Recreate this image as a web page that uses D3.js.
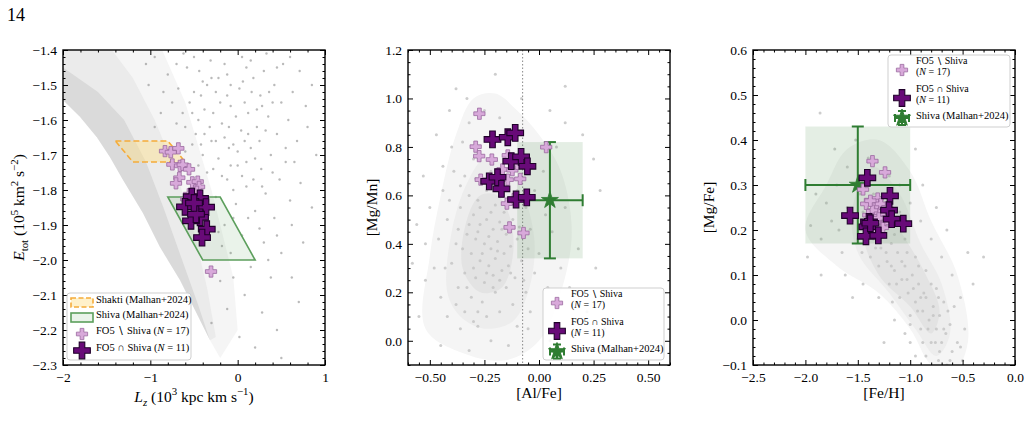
<!DOCTYPE html>
<html>
<head>
<meta charset="utf-8">
<script src="https://cdn.jsdelivr.net/npm/d3@7"></script>
<style>
body { margin: 0; background: #fff; }
svg { font-family: "Liberation Serif", "DejaVu Serif", serif; }
</style>
</head>
<body>
<script>
// ---------- data ----------

// panel 1: E_tot vs L_z
const shaktiBox = [[-1.40, -1.66], [-0.80, -1.66], [-0.60, -1.72], [-1.20, -1.72]];
const shivaBox = [[-0.80, -1.82], [-0.20, -1.82], [0.20, -2.00], [-0.40, -2.00]];
const bandEdge = [[-2.0, -1.543], [-1.805, -1.591], [-1.611, -1.649], [-1.462, -1.706], [-1.313, -1.771],
  [-1.084, -1.866], [-0.889, -1.963], [-0.660, -2.057], [-0.488, -2.143], [-0.316, -2.229]];
const bandFaint = [[-2.0, -1.38], [-0.9, -1.38], [-0.6, -1.55], [-0.3, -1.80], [-0.05, -2.05], [0.0, -2.20], [-0.2, -2.28]];
const bandMid = [[-2.0, -1.38], [-1.5, -1.38], [-1.2, -1.48], [-0.95, -1.60], [-0.7, -1.75], [-0.5, -1.92], [-0.35, -2.08], [-0.25, -2.22]];
const bandCore = [[-2.0, -1.45], [-1.6, -1.52], [-1.3, -1.60], [-1.05, -1.72], [-0.85, -1.85], [-0.65, -1.99], [-0.45, -2.13], [-0.33, -2.22]];
const p1Dots = [
  [-0.95, -1.42], [-0.62, -1.41], [-0.31, -1.43], [0.05, -1.42], [0.33, -1.41], [0.52, -1.44], [0.71, -1.46],
  [-0.80, -1.47], [-0.44, -1.46], [-0.12, -1.47], [0.18, -1.48], [0.42, -1.50], [0.63, -1.52], [-1.02, -1.50],
  [-0.68, -1.51], [-0.25, -1.52], [0.02, -1.51], [0.26, -1.53], [0.50, -1.55], [0.78, -1.56], [-0.55, -1.55],
  [-0.38, -1.57], [-0.08, -1.56], [0.12, -1.58], [0.35, -1.59], [0.58, -1.60], [-0.88, -1.58], [-0.70, -1.61],
  [-0.18, -1.61], [0.04, -1.63], [0.22, -1.62], [0.45, -1.64], [0.68, -1.66], [-0.48, -1.64], [-0.30, -1.66],
  [-0.05, -1.67], [0.15, -1.68], [0.38, -1.70], [0.55, -1.72], [-0.60, -1.69], [-0.22, -1.71], [0.00, -1.73],
  [0.27, -1.74], [0.48, -1.77], [0.72, -1.78], [-0.35, -1.75], [-0.12, -1.77], [0.10, -1.79], [0.32, -1.81],
  [-0.25, -1.82], [-0.02, -1.84], [0.20, -1.86], [0.42, -1.88], [0.62, -1.90], [-0.15, -1.90], [0.05, -1.93],
  [0.30, -1.95], [0.50, -1.98], [-0.08, -1.98], [0.15, -2.02], [0.38, -2.05], [-0.20, -2.06], [0.08, -2.10],
  [0.28, -2.15], [-0.12, -2.14], [0.45, -2.20], [0.02, -2.22], [-0.30, -2.18], [0.62, -2.05], [0.75, -1.95],
  [-0.40, -1.49], [-0.15, -1.44], [0.10, -1.45], [-0.58, -1.45], [0.30, -1.46], [-0.28, -1.58], [-0.45, -1.60],
  [0.08, -1.55], [0.20, -1.71], [-0.10, -1.62], [0.40, -1.75], [-0.40, -1.70], [0.60, -1.83], [-0.05, -1.80],
  [-0.20, -1.55], [-0.32, -1.62], [-0.10, -1.68], [0.12, -1.64], [-0.50, -1.52], [-0.02, -1.59],
  [-0.52, -1.58], [-0.42, -1.53], [-0.35, -1.50], [-0.22, -1.48], [-0.08, -1.50], [0.06, -1.49], [0.16, -1.52],
  [0.28, -1.56], [0.40, -1.55], [-0.60, -1.62], [-0.52, -1.67], [-0.38, -1.64], [-0.25, -1.66], [-0.15, -1.65],
  [0.00, -1.69], [0.08, -1.66], [0.25, -1.66], [0.32, -1.63], [-0.45, -1.73], [-0.28, -1.74], [-0.18, -1.76],
  [0.05, -1.76], [0.18, -1.77], [-0.40, -1.79], [-0.30, -1.85], [0.12, -1.88], [0.25, -1.91], [-0.05, -1.88],
  [0.45, -1.93], [0.55, -1.68], [0.65, -1.72], [0.80, -1.62], [0.85, -1.50], [0.60, -1.42], [0.45, -1.45],
  [-0.75, -1.55], [-0.85, -1.52], [-0.70, -1.44], [-1.05, -1.44], [-0.95, -1.62], [0.70, -2.12], [0.50, -2.28],
  [0.20, -2.25], [-0.05, -2.05], [0.35, -2.00], [-0.18, -1.96], [0.85, -1.85], [0.90, -1.70], [0.15, -1.43],
  [-0.50, -1.42], [-0.30, -1.48], [0.22, -1.57], [-0.12, -1.53], [0.36, -1.52], [-0.63, -1.58], [-0.42, -1.67],
  [0.10, -1.72], [-0.08, -1.73], [0.28, -1.79], [-0.22, -1.92]
];
const p1Out = [ // FO5 \ Shiva
  [-0.832, -1.689], [-0.766, -1.692], [-0.679, -1.681], [-0.748, -1.727], [-0.660, -1.731], [-0.629, -1.728],
  [-0.557, -1.741], [-0.668, -1.765], [-0.706, -1.781], [-0.519, -1.778], [-0.457, -1.776], [-0.442, -1.791],
  [-0.468, -1.805], [-0.557, -1.812], [-0.305, -2.033], [-0.590, -1.826], [-0.430, -1.830]
];
const p1In = [ // FO5 n Shiva
  [-0.526, -1.819], [-0.431, -1.824], [-0.603, -1.848], [-0.477, -1.848], [-0.362, -1.849], [-0.431, -1.878],
  [-0.534, -1.888], [-0.354, -1.912], [-0.408, -1.936], [-0.477, -1.869], [-0.500, -1.837]
];

// panel 2: [Mg/Mn] vs [Al/Fe]
const p2Dots = [
  [-0.30, 0.52], [-0.27, 0.48], [-0.24, 0.50], [-0.21, 0.46], [-0.18, 0.49], [-0.33, 0.44], [-0.29, 0.42], [-0.25, 0.40],
  [-0.22, 0.38], [-0.19, 0.41], [-0.15, 0.44], [-0.31, 0.36], [-0.27, 0.33], [-0.23, 0.31], [-0.20, 0.34], [-0.16, 0.36],
  [-0.13, 0.39], [-0.34, 0.28], [-0.29, 0.26], [-0.25, 0.24], [-0.21, 0.27], [-0.17, 0.29], [-0.14, 0.31], [-0.36, 0.55],
  [-0.32, 0.60], [-0.28, 0.58], [-0.24, 0.62], [-0.20, 0.56], [-0.16, 0.53], [-0.12, 0.50], [-0.38, 0.40], [-0.40, 0.32],
  [-0.37, 0.22], [-0.31, 0.18], [-0.26, 0.16], [-0.20, 0.20], [-0.15, 0.22], [-0.11, 0.26], [-0.08, 0.33], [-0.10, 0.42],
  [-0.42, 0.50], [-0.44, 0.62], [-0.39, 0.70], [-0.34, 0.68], [-0.30, 0.75], [-0.35, 0.82], [-0.32, 0.90], [-0.40, 0.80],
  [-0.46, 0.42], [-0.48, 0.30], [-0.45, 0.18], [-0.42, 0.10], [-0.36, 0.05], [-0.30, 0.08], [-0.24, 0.10], [-0.18, 0.12],
  [-0.12, 0.15], [-0.06, 0.20], [-0.02, 0.28], [0.00, 0.36], [-0.04, 0.46], [-0.06, 0.55], [-0.02, 0.62], [0.02, 0.70],
  [0.06, 0.45], [0.10, 0.30], [0.12, 0.55], [0.08, 0.16], [0.14, 0.22], [-0.52, 0.25], [-0.55, 0.10], [-0.50, 0.55],
  [-0.53, 0.68], [-0.47, 0.85], [-0.41, 0.95], [-0.33, 1.00], [-0.25, 0.95], [-0.18, 0.92], [-0.38, 1.04], [-0.20, 1.10],
  [-0.28, 0.06], [-0.22, 0.00], [-0.14, -0.02], [-0.32, -0.04], [-0.05, 0.05], [0.05, 0.00], [-0.45, -0.02], [-0.52, 0.40],
  [0.20, 0.85], [0.12, 0.90], [0.18, 0.38], [0.22, 0.12], [0.26, 0.30], [0.28, 0.62], [0.05, 0.95], [-0.08, 1.00],
  [0.12, 1.05], [0.25, 0.75], [0.08, 0.80], [-0.12, 0.85], [0.30, 0.05], [-0.58, 0.32], [-0.56, 0.48],
  [-0.28, 0.45], [-0.23, 0.43], [-0.19, 0.37], [-0.26, 0.36], [-0.32, 0.48], [-0.22, 0.53], [-0.17, 0.46], [-0.30, 0.30],
  [-0.24, 0.28], [-0.18, 0.25], [-0.13, 0.28], [-0.35, 0.38], [-0.27, 0.55], [-0.14, 0.57], [-0.09, 0.47], [-0.33, 0.22],
  [-0.28, 0.12], [-0.38, 0.15], [-0.43, 0.30], [-0.41, 0.58], [-0.36, 0.64], [-0.29, 0.67], [-0.22, 0.70], [-0.10, 0.62],
  [-0.05, 0.38], [-0.04, 0.12], [-0.10, 0.06], [-0.44, 0.72], [-0.37, 0.46], [-0.21, 0.22], [-0.34, 0.12], [-0.26, 0.65],
  [-0.16, 0.64], [-0.07, 0.25], [0.03, 0.52], [0.04, 0.22]
];
const p2CloudOuter = [[-0.52, 0.05], [-0.50, 0.35], [-0.45, 0.60], [-0.38, 0.85], [-0.30, 1.00], [-0.20, 1.02], [-0.10, 0.95],
  [0.00, 0.85], [0.10, 0.70], [0.15, 0.45], [0.10, 0.20], [0.00, 0.00], [-0.15, -0.08], [-0.35, -0.05]];
const p2CloudMid = [[-0.42, 0.20], [-0.40, 0.45], [-0.33, 0.65], [-0.25, 0.75], [-0.15, 0.72], [-0.07, 0.60], [-0.02, 0.40],
  [-0.05, 0.20], [-0.12, 0.08], [-0.25, 0.05], [-0.36, 0.10]];
const p2CloudCore = [[-0.35, 0.30], [-0.33, 0.50], [-0.27, 0.60], [-0.19, 0.60], [-0.13, 0.50], [-0.12, 0.35], [-0.17, 0.22], [-0.27, 0.20]];
const p2Out = [
  [-0.273, 0.937], [-0.290, 0.801], [-0.274, 0.762], [-0.216, 0.748], [-0.143, 0.765], [-0.167, 0.707], [-0.122, 0.704],
  [-0.267, 0.665], [-0.143, 0.665], [-0.086, 0.668], [0.033, 0.799], [-0.147, 0.566], [-0.135, 0.468], [-0.071, 0.445],
  [-0.190, 0.665], [-0.115, 0.585], [-0.100, 0.730]
];
const p2In = [
  [-0.213, 0.831], [-0.143, 0.840], [-0.109, 0.858], [-0.127, 0.741], [-0.082, 0.759], [-0.053, 0.720],
  [-0.228, 0.658], [-0.190, 0.675], [-0.172, 0.627], [-0.105, 0.583], [-0.056, 0.592]
];
const p2Shiva = { x: 0.05, y: 0.58, xlo: -0.10, xhi: 0.20, ylo: 0.34, yhi: 0.82 };
const p2VLine = -0.075;

// panel 3: [Mg/Fe] vs [Fe/H]
const p3Dots = [
  [-1.45, 0.24], [-1.40, 0.20], [-1.35, 0.18], [-1.32, 0.22], [-1.28, 0.16], [-1.25, 0.19], [-1.22, 0.13], [-1.18, 0.17],
  [-1.15, 0.11], [-1.12, 0.15], [-1.08, 0.09], [-1.05, 0.12], [-1.02, 0.06], [-0.98, 0.10], [-0.95, 0.04], [-0.92, 0.08],
  [-0.88, 0.02], [-0.85, 0.05], [-0.82, 0.00], [-0.78, 0.03], [-0.75, -0.02], [-0.72, 0.01], [-0.70, -0.05], [-0.66, -0.03],
  [-1.30, 0.12], [-1.20, 0.08], [-1.10, 0.05], [-1.00, 0.01], [-0.90, -0.02], [-0.80, -0.05], [-1.38, 0.14], [-1.50, 0.18],
  [-1.55, 0.22], [-1.48, 0.28], [-1.42, 0.31], [-1.35, 0.28], [-1.25, 0.26], [-1.15, 0.22], [-1.05, 0.18], [-0.95, 0.14],
  [-0.85, 0.11], [-0.75, 0.07], [-0.68, 0.04], [-0.62, -0.01], [-0.60, -0.07], [-0.65, -0.10], [-0.73, -0.09], [-0.58, 0.03],
  [-1.75, 0.22], [-1.85, 0.18], [-1.95, 0.21], [-1.70, 0.30], [-1.65, 0.15], [-1.80, 0.26], [-1.90, 0.28], [-1.60, 0.34],
  [-1.62, 0.10], [-1.72, 0.38], [-1.52, 0.40], [-1.40, 0.36], [-1.20, 0.32], [-1.10, 0.30], [-1.00, 0.26], [-0.90, 0.22],
  [-0.80, 0.18], [-0.70, 0.14], [-0.60, 0.10], [-0.52, 0.05], [-0.48, -0.02], [-0.55, -0.05], [-0.50, -0.09], [-0.70, -0.14],
  [-0.85, -0.08], [-1.00, -0.05], [-1.15, 0.00], [-1.30, 0.05], [-1.45, 0.08], [-1.55, 0.05], [-1.05, -0.03], [-0.95, -0.08],
  [-0.88, 0.30], [-0.75, 0.25], [-0.65, 0.20], [-0.45, 0.15], [-0.40, 0.08], [-0.62, -0.09], [-1.86, 0.46], [-0.95, 0.38],
  [-0.30, 0.14], [-1.25, -0.05], [-1.85, 0.10], [-1.98, 0.14],
  [-1.18, 0.12], [-1.13, 0.08], [-1.08, 0.13], [-1.03, 0.09], [-0.97, 0.07], [-0.93, 0.02], [-0.87, 0.06], [-0.83, -0.02],
  [-0.78, 0.01], [-0.76, -0.05], [-0.72, -0.07], [-0.68, -0.02], [-1.27, 0.21], [-1.23, 0.15], [-1.33, 0.16], [-1.40, 0.26],
  [-1.46, 0.15], [-1.15, 0.19], [-1.03, 0.15], [-0.92, 0.12], [-0.80, 0.08], [-0.73, 0.05], [-0.64, 0.02], [-0.90, 0.05],
  [-1.00, -0.01], [-1.17, 0.04], [-1.60, 0.25], [-1.68, 0.20], [-1.10, 0.24], [-0.88, -0.05], [-0.58, -0.11], [-0.52, -0.06]
];
const p3CloudOuter = [[-2.0, 0.20], [-1.8, 0.30], [-1.6, 0.38], [-1.3, 0.40], [-1.0, 0.33], [-0.8, 0.22], [-0.55, 0.10],
  [-0.45, -0.05], [-0.6, -0.12], [-0.8, -0.10], [-1.0, -0.02], [-1.3, 0.06], [-1.7, 0.12]];
const p3CloudMid = [[-1.55, 0.25], [-1.35, 0.34], [-1.1, 0.28], [-0.9, 0.17], [-0.7, 0.08], [-0.62, -0.03], [-0.75, -0.08],
  [-0.95, -0.02], [-1.2, 0.06], [-1.5, 0.15]];
const p3CloudCore = [[-1.45, 0.20], [-1.3, 0.27], [-1.1, 0.20], [-0.85, 0.10], [-0.72, 0.02], [-0.8, -0.03], [-1.0, 0.03], [-1.3, 0.10]];
const p3Out = [
  [-1.36, 0.353], [-1.24, 0.328], [-1.31, 0.270], [-1.42, 0.258], [-1.32, 0.256], [-1.36, 0.243], [-1.29, 0.236],
  [-1.25, 0.216], [-1.26, 0.205], [-1.35, 0.201], [-1.40, 0.233], [-1.28, 0.258], [-1.33, 0.222], [-1.22, 0.250],
  [-1.45, 0.290], [-1.30, 0.226], [-1.38, 0.265]
];
const p3In = [
  [-1.409, 0.316], [-1.193, 0.276], [-1.574, 0.232], [-1.202, 0.244], [-1.177, 0.224], [-1.066, 0.214],
  [-1.393, 0.218], [-1.409, 0.207], [-1.422, 0.186], [-1.304, 0.188], [-1.380, 0.215]
];
const p3Shiva = { x: -1.5, y: 0.30, xlo: -2.0, xhi: -1.0, ylo: 0.17, yhi: 0.43 };

// ---------- styles ----------
const LIGHT = "#d8a9da", LIGHT_EDGE = "#9a6aa0";
const DARK = "#680a78", DARK_EDGE = "#20002a";
const GREEN = "#2f7d32";
const TOP = 50, BOT = 365;
const TICK_FS = 13.5, LABEL_FS = 15.5;

const svg = d3.select("body").append("svg").attr("width", 1030).attr("height", 430);
svg.append("text").attr("x", 7).attr("y", 21).attr("font-size", 18).text("14");

function stepValues(dom, step) {
  const lo = Math.min(...dom), hi = Math.max(...dom);
  return d3.range(Math.ceil(lo / step - 1e-9), Math.floor(hi / step + 1e-9) + 1).map(i => +(i * step).toFixed(6));
}

function panel(id, left, right, xDom, yDom) {
  const x = d3.scaleLinear().domain(xDom).range([left, right]);
  const y = d3.scaleLinear().domain(yDom).range([BOT, TOP]);
  svg.append("clipPath").attr("id", "clip" + id)
    .append("rect").attr("x", left).attr("y", TOP).attr("width", right - left).attr("height", BOT - TOP);
  const g = svg.append("g");
  const plot = g.append("g").attr("clip-path", `url(#clip${id})`);
  return { x, y, g, plot, left, right };
}

function axes(p, xStep, xMinor, yStep, yMinor, xFmt, yFmt) {
  const { x, y, g, left, right } = p;
  const xMaj = stepValues(x.domain(), xStep);
  const xMin = stepValues(x.domain(), xMinor).filter(v => !xMaj.some(m => Math.abs(m - v) < 1e-6));
  const yMaj = stepValues(y.domain(), yStep);
  const yMin = stepValues(y.domain(), yMinor).filter(v => !yMaj.some(m => Math.abs(m - v) < 1e-6));

  const ax = g.append("g");
  ax.append("g").attr("transform", `translate(0,${BOT})`)
    .call(d3.axisBottom(x).tickValues(xMaj).tickFormat(xFmt).tickSizeInner(-5).tickSizeOuter(0).tickPadding(7));
  ax.append("g").attr("transform", `translate(0,${BOT})`)
    .call(d3.axisBottom(x).tickValues(xMin).tickFormat("").tickSizeInner(-2.5).tickSizeOuter(0));
  ax.append("g").attr("transform", `translate(0,${TOP})`)
    .call(d3.axisTop(x).tickValues(xMaj).tickFormat("").tickSizeInner(-5).tickSizeOuter(0));
  ax.append("g").attr("transform", `translate(0,${TOP})`)
    .call(d3.axisTop(x).tickValues(xMin).tickFormat("").tickSizeInner(-2.5).tickSizeOuter(0));
  ax.append("g").attr("transform", `translate(${left},0)`)
    .call(d3.axisLeft(y).tickValues(yMaj).tickFormat(yFmt).tickSizeInner(-5).tickSizeOuter(0).tickPadding(6));
  ax.append("g").attr("transform", `translate(${left},0)`)
    .call(d3.axisLeft(y).tickValues(yMin).tickFormat("").tickSizeInner(-2.5).tickSizeOuter(0));
  ax.append("g").attr("transform", `translate(${right},0)`)
    .call(d3.axisRight(y).tickValues(yMaj).tickFormat("").tickSizeInner(-5).tickSizeOuter(0));
  ax.append("g").attr("transform", `translate(${right},0)`)
    .call(d3.axisRight(y).tickValues(yMin).tickFormat("").tickSizeInner(-2.5).tickSizeOuter(0));
  ax.selectAll(".domain").remove();
  ax.selectAll(".tick line").attr("stroke", "#000").attr("stroke-width", 1);
  ax.selectAll(".tick text").attr("font-size", TICK_FS).attr("font-family", "Liberation Serif").attr("fill", "#000");

  g.append("rect").attr("x", left).attr("y", TOP).attr("width", right - left).attr("height", BOT - TOP)
    .attr("fill", "none").attr("stroke", "#000").attr("stroke-width", 1.4);
}

function richText(text, parts, fs) {
  let shift = 0;
  parts.forEach(pt => {
    const target = pt.sub ? fs * 0.28 : pt.sup ? -fs * 0.42 : 0;
    const ts = text.append("tspan").attr("dy", target - shift).text(pt.t);
    if (pt.sub || pt.sup) ts.attr("font-size", fs * 0.7);
    if (pt.it) ts.attr("font-style", "italic");
    shift = target;
  });
}

function crosses(p, data, size, fill, stroke) {
  p.g.append("g").selectAll("path").data(data).join("path")
    .attr("transform", d => `translate(${p.x(d[0])},${p.y(d[1])})`)
    .attr("d", d3.symbol(d3.symbolCross, size))
    .attr("fill", fill).attr("stroke", stroke).attr("stroke-width", size > 100 ? 1.1 : 0.8);
}

function dots(p, data, r, color, op) {
  p.plot.append("g").selectAll("circle").data(data).join("circle")
    .attr("cx", d => p.x(d[0])).attr("cy", d => p.y(d[1])).attr("r", r)
    .attr("fill", color).attr("opacity", op);
}

function blob(p, pts, color) {
  const line = d3.line().x(d => p.x(d[0])).y(d => p.y(d[1])).curve(d3.curveCatmullRomClosed.alpha(0.5));
  p.plot.append("path").attr("d", line(pts)).attr("fill", color);
}

function shivaErr(p, s) {
  const { x, y } = p;
  p.plot.append("rect").attr("x", x(s.xlo)).attr("y", y(s.yhi))
    .attr("width", x(s.xhi) - x(s.xlo)).attr("height", y(s.ylo) - y(s.yhi))
    .attr("fill", GREEN).attr("opacity", 0.13);
  const eg = p.g.append("g").attr("stroke", GREEN).attr("stroke-width", 2);
  eg.append("line").attr("x1", x(s.xlo)).attr("x2", x(s.xhi)).attr("y1", y(s.y)).attr("y2", y(s.y));
  eg.append("line").attr("x1", x(s.x)).attr("x2", x(s.x)).attr("y1", y(s.ylo)).attr("y2", y(s.yhi));
  [s.xlo, s.xhi].forEach(v => eg.append("line").attr("x1", x(v)).attr("x2", x(v)).attr("y1", y(s.y) - 6).attr("y2", y(s.y) + 6));
  [s.ylo, s.yhi].forEach(v => eg.append("line").attr("y1", y(v)).attr("y2", y(v)).attr("x1", x(s.x) - 6).attr("x2", x(s.x) + 6));
  p.g.append("path").attr("transform", `translate(${x(s.x)},${y(s.y)})`)
    .attr("d", d3.symbol(d3.symbolStar, 90)).attr("fill", GREEN).attr("stroke", GREEN).attr("stroke-width", 0.8);
}

function legendBox(x0, y0, w, h) {
  svg.append("rect").attr("x", x0).attr("y", y0).attr("width", w).attr("height", h).attr("rx", 3)
    .attr("fill", "#fff").attr("fill-opacity", 0.85).attr("stroke", "#cfcfcf").attr("stroke-width", 1);
}

function legendCross(cx, cy, size, fill, stroke) {
  svg.append("path").attr("transform", `translate(${cx},${cy})`).attr("d", d3.symbol(d3.symbolCross, size))
    .attr("fill", fill).attr("stroke", stroke).attr("stroke-width", size > 100 ? 1.1 : 0.8);
}

function legendStar(cx, cy) {
  const gg = svg.append("g").attr("stroke", GREEN).attr("stroke-width", 2);
  gg.append("line").attr("x1", cx - 7).attr("x2", cx + 7).attr("y1", cy).attr("y2", cy);
  gg.append("line").attr("x1", cx).attr("x2", cx).attr("y1", cy - 7).attr("y2", cy + 7);
  gg.append("line").attr("x1", cx - 7).attr("x2", cx - 7).attr("y1", cy - 4).attr("y2", cy + 4);
  gg.append("line").attr("x1", cx + 7).attr("x2", cx + 7).attr("y1", cy - 4).attr("y2", cy + 4);
  gg.append("line").attr("x1", cx - 4).attr("x2", cx + 4).attr("y1", cy - 7).attr("y2", cy - 7);
  gg.append("line").attr("x1", cx - 4).attr("x2", cx + 4).attr("y1", cy + 7).attr("y2", cy + 7);
  svg.append("path").attr("transform", `translate(${cx},${cy})`).attr("d", d3.symbol(d3.symbolStar, 90))
    .attr("fill", GREEN).attr("stroke", GREEN);
}

function legendText(x0, yc, parts, fs) {
  const t = svg.append("text").attr("x", x0).attr("y", yc).attr("dy", "0.33em").attr("font-size", fs);
  richText(t, parts, fs);
}

// ---------- panel 1 ----------
const p1 = panel(1, 63, 325, [-2, 1], [-2.3, -1.4]);
{
  const poly = d3.line().x(d => p1.x(d[0])).y(d => p1.y(d[1])).curve(d3.curveLinearClosed);
  [[bandFaint, "#f5f5f5"], [bandMid, "#ebebeb"], [bandCore, "#dadada"]].forEach(([upper, col]) => {
    p1.plot.append("path").attr("d", poly(bandEdge.concat(upper.slice().reverse()))).attr("fill", col);
  });
  dots(p1, p1Dots, 1.2, "#8c8c8c", 0.6);
  p1.plot.append("path").attr("d", poly(shaktiBox)).attr("fill", "#ffe08a").attr("fill-opacity", 0.45)
    .attr("stroke", "#f5ac3a").attr("stroke-width", 1.6).attr("stroke-dasharray", "6,3");
  p1.plot.append("path").attr("d", poly(shivaBox)).attr("fill", "#5aa55a").attr("fill-opacity", 0.13)
    .attr("stroke", "#5c9f5c").attr("stroke-width", 1.6);
  crosses(p1, p1Out, 70, LIGHT, LIGHT_EDGE);
  crosses(p1, p1In, 155, DARK, DARK_EDGE);
  axes(p1, 1, 0.2, 0.1, 0.02, d3.format("d"), d3.format(".1f"));

  const xl = svg.append("text").attr("x", 194).attr("y", 402).attr("text-anchor", "middle").attr("font-size", LABEL_FS);
  richText(xl, [{ t: "L", it: true }, { t: "z", it: true, sub: true }, { t: " (10" }, { t: "3", sup: true },
    { t: " kpc km s" }, { t: "−1", sup: true }, { t: ")" }], LABEL_FS);
  const yl = svg.append("text").attr("transform", "translate(24,207.5) rotate(-90)").attr("text-anchor", "middle").attr("font-size", LABEL_FS);
  richText(yl, [{ t: "E", it: true }, { t: "tot", sub: true }, { t: " (10" }, { t: "5", sup: true },
    { t: " km" }, { t: "2", sup: true }, { t: " s" }, { t: "−2", sup: true }, { t: ")" }], LABEL_FS);

  legendBox(67, 293, 124, 67);
  svg.append("rect").attr("x", 71).attr("y", 298).attr("width", 22).attr("height", 9)
    .attr("fill", "#ffe08a").attr("fill-opacity", 0.45).attr("stroke", "#f5ac3a").attr("stroke-width", 1.6).attr("stroke-dasharray", "5,2.5");
  legendText(96, 303, [{ t: "Shakti (Malhan+2024)" }], 10.5);
  svg.append("rect").attr("x", 71).attr("y", 313).attr("width", 22).attr("height", 9)
    .attr("fill", "#5aa55a").attr("fill-opacity", 0.13).attr("stroke", "#5c9f5c").attr("stroke-width", 1.6);
  legendText(96, 318, [{ t: "Shiva (Malhan+2024)" }], 10.5);
  legendCross(82, 334, 70, LIGHT, LIGHT_EDGE);
  legendText(96, 334, [{ t: "FO5 ∖ Shiva (" }, { t: "N", it: true }, { t: " = 17)" }], 10.5);
  legendCross(82, 350.5, 155, DARK, DARK_EDGE);
  legendText(96, 350.5, [{ t: "FO5 ∩ Shiva (" }, { t: "N", it: true }, { t: " = 11)" }], 10.5);
}

// ---------- panel 2 ----------
const p2 = panel(2, 408, 670, [-0.6, 0.6], [-0.1, 1.2]);
{
  blob(p2, p2CloudOuter, "#f5f5f5");
  blob(p2, p2CloudMid, "#ededed");
  blob(p2, p2CloudCore, "#e3e3e3");
  dots(p2, p2Dots, 1.5, "#c4c4c4", 0.85);
  p2.plot.append("line").attr("x1", p2.x(p2VLine)).attr("x2", p2.x(p2VLine)).attr("y1", TOP).attr("y2", BOT)
    .attr("stroke", "#888").attr("stroke-width", 1).attr("stroke-dasharray", "1.5,2");
  shivaErr(p2, p2Shiva);
  crosses(p2, p2Out, 70, LIGHT, LIGHT_EDGE);
  crosses(p2, p2In, 155, DARK, DARK_EDGE);
  axes(p2, 0.25, 0.05, 0.2, 0.05, d3.format(".2f"), d3.format(".1f"));

  svg.append("text").attr("x", 539).attr("y", 398).attr("text-anchor", "middle").attr("font-size", LABEL_FS).text("[Al/Fe]");
  svg.append("text").attr("transform", "translate(377,207.5) rotate(-90)").attr("text-anchor", "middle").attr("font-size", LABEL_FS).text("[Mg/Mn]");

  legendBox(543, 288, 121, 72);
  legendCross(557, 303, 70, LIGHT, LIGHT_EDGE);
  legendText(571, 297, [{ t: "FO5 ∖ Shiva" }], 10);
  legendText(571, 308, [{ t: "(" }, { t: "N", it: true }, { t: " = 17)" }], 10);
  legendCross(557, 331, 155, DARK, DARK_EDGE);
  legendText(571, 324.5, [{ t: "FO5 ∩ Shiva" }], 10);
  legendText(571, 335.5, [{ t: "(" }, { t: "N", it: true }, { t: " = 11)" }], 10);
  legendStar(557, 351.5);
  legendText(571, 352, [{ t: "Shiva (Malhan+2024)" }], 10.5);
}

// ---------- panel 3 ----------
const p3 = panel(3, 753, 1015, [-2.5, 0], [-0.1, 0.6]);
{
  blob(p3, p3CloudOuter, "#f5f5f5");
  blob(p3, p3CloudMid, "#ededed");
  blob(p3, p3CloudCore, "#e3e3e3");
  dots(p3, p3Dots, 1.5, "#c4c4c4", 0.85);
  shivaErr(p3, p3Shiva);
  crosses(p3, p3Out, 70, LIGHT, LIGHT_EDGE);
  crosses(p3, p3In, 155, DARK, DARK_EDGE);
  axes(p3, 0.5, 0.1, 0.1, 0.02, d3.format(".1f"), d3.format(".1f"));

  svg.append("text").attr("x", 884).attr("y", 398).attr("text-anchor", "middle").attr("font-size", LABEL_FS).text("[Fe/H]");
  svg.append("text").attr("transform", "translate(714,207.5) rotate(-90)").attr("text-anchor", "middle").attr("font-size", LABEL_FS).text("[Mg/Fe]");

  legendBox(888, 55, 122, 72);
  legendCross(902, 70, 70, LIGHT, LIGHT_EDGE);
  legendText(916, 64, [{ t: "FO5 ∖ Shiva" }], 10);
  legendText(916, 75, [{ t: "(" }, { t: "N", it: true }, { t: " = 17)" }], 10);
  legendCross(902, 98, 155, DARK, DARK_EDGE);
  legendText(916, 91.5, [{ t: "FO5 ∩ Shiva" }], 10);
  legendText(916, 102.5, [{ t: "(" }, { t: "N", it: true }, { t: " = 11)" }], 10);
  legendStar(902, 118);
  legendText(916, 118.5, [{ t: "Shiva (Malhan+2024)" }], 10.5);
}
</script>
</body>
</html>
